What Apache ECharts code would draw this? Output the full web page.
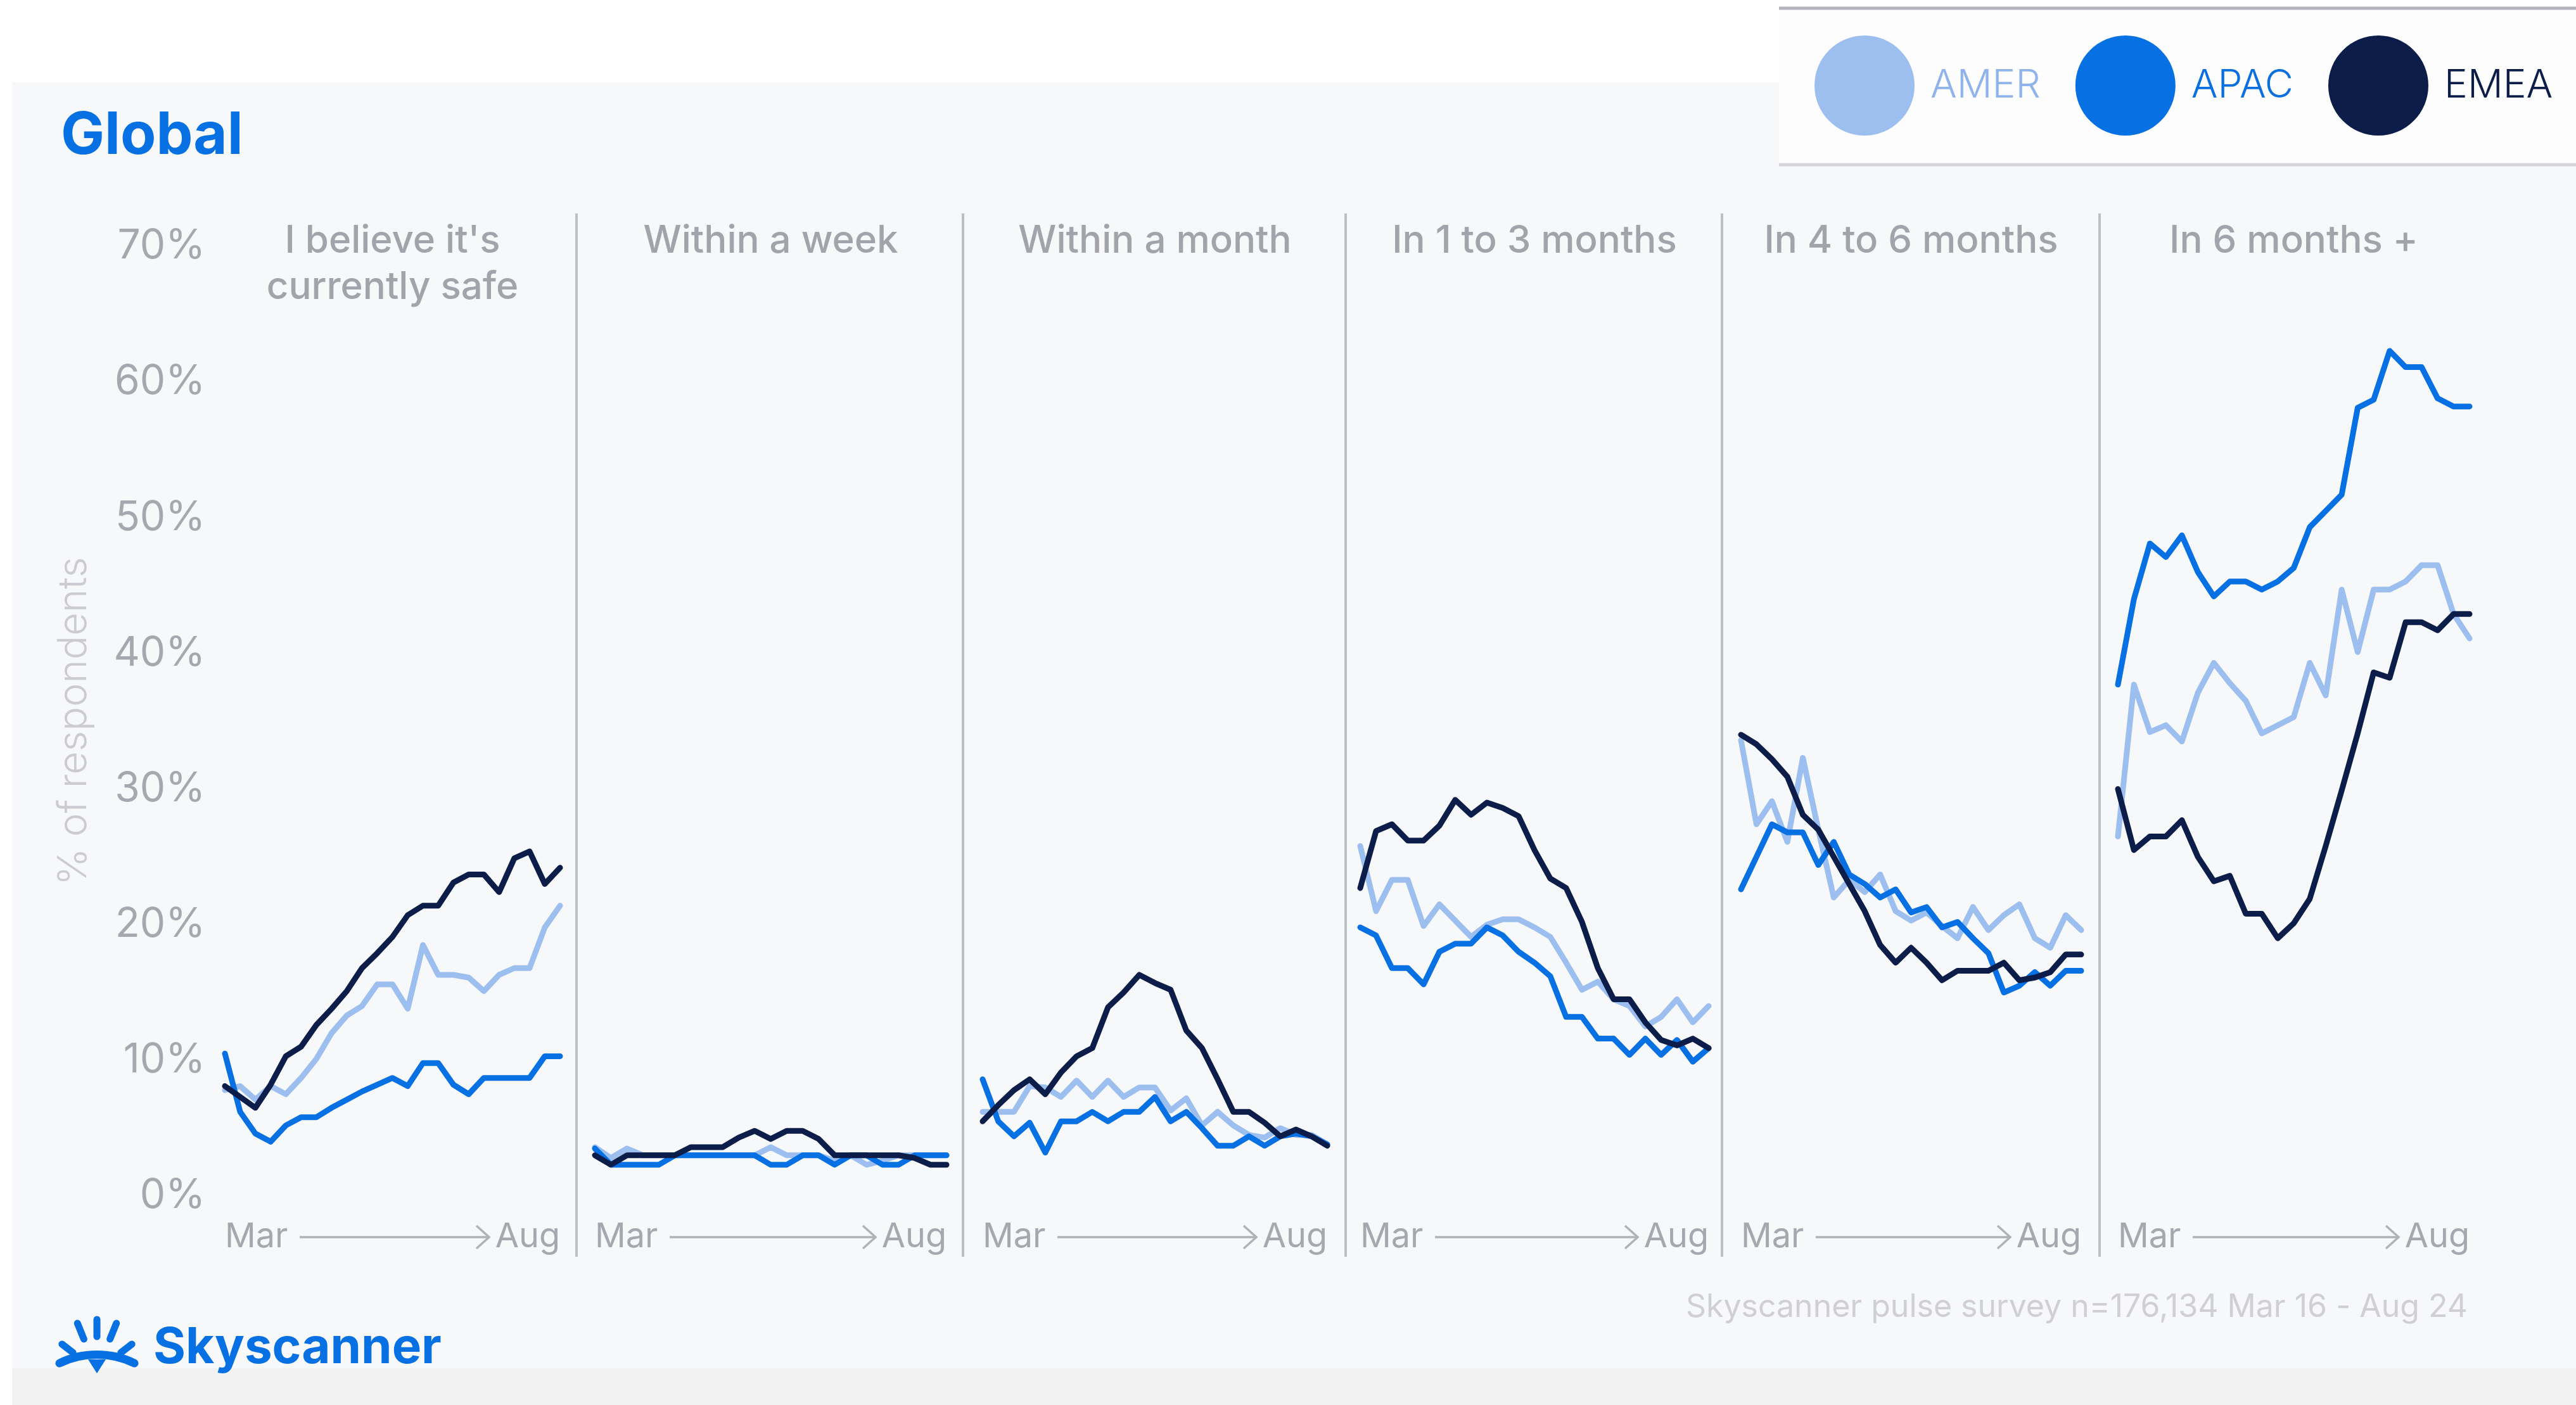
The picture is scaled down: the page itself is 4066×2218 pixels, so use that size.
<!DOCTYPE html>
<html>
<head>
<meta charset="utf-8">
<title>Global – when is it safe to travel?</title>
<script src="https://cdn.jsdelivr.net/npm/echarts@6/dist/echarts.min.js"></script>
<style>
  html, body { margin: 0; padding: 0; background: #ffffff; }
  #chart { width: 4066px; height: 2218px; }
</style>
</head>
<body>
<div id="chart"></div>
<script>
// ---- data -------------------------------------------------------------
const weeks = ['W1','W2','W3','W4','W5','W6','W7','W8','W9','W10','W11','W12',
               'W13','W14','W15','W16','W17','W18','W19','W20','W21','W22','W23'];
const xEndLabels = ['Mar', 'Aug'];
const yTicks = [0, 10, 20, 30, 40, 50, 60, 70];
const regions = ['AMER', 'APAC', 'EMEA'];
const panelTitles = ["I believe it's\ncurrently safe", 'Within a week', 'Within a month',
                     'In 1 to 3 months', 'In 4 to 6 months', 'In 6 months +'];

// I believe it's currently safe
const amerSafe = [7.8, 8.1, 7.1, 8.1, 7.5, 8.7, 10.1, 12.0, 13.3, 14.0, 15.6, 15.6, 13.8, 18.5, 16.3, 16.3, 16.1, 15.1, 16.3, 16.8, 16.8, 19.8, 21.4];
const apacSafe = [10.5, 6.2, 4.6, 4.0, 5.2, 5.8, 5.8, 6.5, 7.1, 7.7, 8.2, 8.7, 8.1, 9.8, 9.8, 8.2, 7.5, 8.7, 8.7, 8.7, 8.7, 10.3, 10.3];
const emeaSafe = [8.1, 7.3, 6.5, 8.2, 10.3, 11.0, 12.6, 13.8, 15.1, 16.8, 17.9, 19.1, 20.7, 21.4, 21.4, 23.1, 23.7, 23.7, 22.4, 24.9, 25.4, 23.0, 24.2];

// Within a week
const amerWeek = [3.6, 2.8, 3.5, 3.0, 3.0, 3.0, 3.0, 3.0, 3.0, 3.0, 3.0, 3.6, 3.0, 3.0, 3.0, 2.6, 3.0, 2.3, 2.6, 3.0, 3.0, 3.0, 3.0];
const apacWeek = [3.5, 2.3, 2.3, 2.3, 2.3, 3.0, 3.0, 3.0, 3.0, 3.0, 3.0, 2.3, 2.3, 3.0, 3.0, 2.3, 3.0, 3.0, 2.3, 2.3, 3.0, 3.0, 3.0];
const emeaWeek = [3.0, 2.3, 3.0, 3.0, 3.0, 3.0, 3.6, 3.6, 3.6, 4.3, 4.8, 4.2, 4.8, 4.8, 4.2, 3.0, 3.0, 3.0, 3.0, 3.0, 2.8, 2.3, 2.3];

// Within a month
const amerMonth = [6.2, 6.2, 6.2, 8.1, 8.0, 7.3, 8.5, 7.3, 8.5, 7.3, 8.0, 8.0, 6.3, 7.2, 5.2, 6.2, 5.2, 4.5, 4.3, 5.0, 4.5, 4.5, 3.8];
const apacMonth = [8.6, 5.5, 4.4, 5.4, 3.2, 5.5, 5.5, 6.2, 5.5, 6.2, 6.2, 7.3, 5.5, 6.2, 5.0, 3.7, 3.7, 4.4, 3.7, 4.4, 4.6, 4.4, 3.8];
const emeaMonth = [5.5, 6.7, 7.8, 8.6, 7.5, 9.1, 10.3, 10.9, 13.9, 15.0, 16.3, 15.7, 15.2, 12.2, 10.9, 8.6, 6.2, 6.2, 5.4, 4.4, 4.9, 4.4, 3.7];

// In 1 to 3 months
const amerOneToThree = [25.8, 21.0, 23.3, 23.3, 19.9, 21.5, 20.3, 19.1, 20.0, 20.4, 20.4, 19.8, 19.1, 17.2, 15.2, 15.8, 14.5, 14.0, 12.5, 13.2, 14.5, 12.8, 14.0];
const apacOneToThree = [19.8, 19.2, 16.8, 16.8, 15.6, 18.0, 18.6, 18.6, 19.8, 19.2, 18.0, 17.2, 16.2, 13.2, 13.2, 11.6, 11.6, 10.4, 11.6, 10.4, 11.5, 9.9, 10.9];
const emeaOneToThree = [22.7, 26.9, 27.4, 26.2, 26.2, 27.3, 29.2, 28.1, 29.0, 28.6, 28.0, 25.5, 23.4, 22.7, 20.2, 16.8, 14.5, 14.5, 12.8, 11.5, 11.1, 11.6, 10.9];

// In 4 to 6 months
const amerFourToSix = [33.6, 27.4, 29.1, 26.1, 32.3, 27.0, 22.0, 23.3, 22.4, 23.7, 21.0, 20.3, 20.9, 19.9, 19.0, 21.3, 19.6, 20.7, 21.5, 19.0, 18.3, 20.7, 19.6];
const apacFourToSix = [22.6, 25.0, 27.4, 26.8, 26.8, 24.4, 26.1, 23.7, 23.0, 22.0, 22.6, 20.9, 21.3, 19.8, 20.2, 19.0, 17.9, 15.0, 15.5, 16.5, 15.5, 16.6, 16.6];
const emeaFourToSix = [34.0, 33.3, 32.2, 30.9, 28.1, 27.0, 25.0, 23.0, 21.0, 18.5, 17.2, 18.3, 17.2, 15.9, 16.6, 16.6, 16.6, 17.2, 15.9, 16.1, 16.5, 17.8, 17.8];

// In 6 months +
const amerSixPlus = [26.5, 37.7, 34.2, 34.7, 33.5, 37.1, 39.3, 37.8, 36.5, 34.1, 34.7, 35.3, 39.3, 36.9, 44.7, 40.1, 44.7, 44.7, 45.3, 46.5, 46.5, 42.9, 41.1];
const apacSixPlus = [37.7, 44.0, 48.1, 47.1, 48.7, 46.0, 44.2, 45.3, 45.3, 44.7, 45.3, 46.3, 49.3, 50.5, 51.7, 58.1, 58.7, 62.3, 61.1, 61.1, 58.8, 58.2, 58.2];
const emeaSixPlus = [30.0, 25.5, 26.5, 26.5, 27.7, 25.0, 23.2, 23.6, 20.8, 20.8, 19.0, 20.1, 21.9, 25.8, 29.9, 34.1, 38.6, 38.2, 42.3, 42.3, 41.7, 42.9, 42.9];

const panelSeries = [
  [amerSafe, apacSafe, emeaSafe],
  [amerWeek, apacWeek, emeaWeek],
  [amerMonth, apacMonth, emeaMonth],
  [amerOneToThree, apacOneToThree, emeaOneToThree],
  [amerFourToSix, apacFourToSix, emeaFourToSix],
  [amerSixPlus, apacSixPlus, emeaSixPlus]
];

// ---- layout & style ---------------------------------------------------
const FONT = 'Inter, "Noto Sans", "Liberation Sans", sans-serif';
const regionColors = ['#9cbff0', '#0770e3', '#0c1d4a'];
const legendTextColors = ['#8fb4ec', '#0b6fe0', '#0c1d4a'];
const panelLeft = [355, 939, 1551, 2147, 2748, 3343];
const panelWidth = [529, 555, 544, 550, 537, 555];
const separatorX = [910, 1520, 2124, 2718, 3314];
const plotTop = 389;
const plotHeight = 1499;
const axisTextColor = '#a7a7af';

const grids = [], xAxes = [], yAxes = [], series = [], titles = [];

panelLeft.forEach((left, p) => {
  grids.push({ left: left, top: plotTop, width: panelWidth[p], height: plotHeight, containLabel: false });

  xAxes.push({
    type: 'category', gridIndex: p, data: weeks, boundaryGap: false,
    axisLine: { show: false }, axisTick: { show: false }, splitLine: { show: false },
    axisLabel: {
      interval: 0, margin: 38, fontSize: 54, lineHeight: 54, color: axisTextColor, fontFamily: FONT,
      alignMinLabel: 'left', alignMaxLabel: 'right',
      formatter: (v, i) => i === 0 ? xEndLabels[0] : (i === weeks.length - 1 ? xEndLabels[1] : '')
    }
  });

  yAxes.push({
    type: 'value', gridIndex: p,
    min: yTicks[0], max: yTicks[yTicks.length - 1], interval: yTicks[1] - yTicks[0],
    axisLine: { show: false }, axisTick: { show: false }, splitLine: { show: false },
    axisLabel: {
      show: p === 0, formatter: '{value}%', margin: 31,
      fontSize: 64, color: axisTextColor, fontFamily: FONT
    },
    name: p === 0 ? '% of respondents' : '',
    nameLocation: 'middle', nameRotate: 90, nameGap: 206,
    nameTextStyle: { fontSize: 63, color: '#cbcbd1', fontFamily: FONT, fontWeight: 300 }
  });

  panelSeries[p].forEach((values, r) => {
    series.push({
      type: 'line', name: regions[r], xAxisIndex: p, yAxisIndex: p,
      data: values, symbol: 'none', smooth: false, z: 2 + r,
      lineStyle: { width: 9, color: regionColors[r], join: 'round', cap: 'round' },
      itemStyle: { color: regionColors[r] },
      emphasis: { disabled: true }, silent: true, animation: false
    });
  });

  titles.push({
    text: panelTitles[p], left: left + panelWidth[p] / 2, top: 344, padding: 0,
    textAlign: 'center', textVerticalAlign: 'top',
    textStyle: { fontSize: 60, lineHeight: 73, fontWeight: 500, color: '#a3a3ab', fontFamily: FONT }
  });
});

titles.push({
  text: 'Global', left: 96, top: 169, padding: 0, textVerticalAlign: 'top',
  textStyle: { fontSize: 92, lineHeight: 92, fontWeight: 700, color: '#0770e3', fontFamily: FONT }
});
titles.push({
  text: 'Skyscanner pulse survey n=176,134 Mar 16 - Aug 24', left: 3895, top: 2039, padding: 0,
  textAlign: 'right', textVerticalAlign: 'top',
  textStyle: { fontSize: 50, lineHeight: 50, fontWeight: 400, color: '#cfcfd4', fontFamily: FONT }
});
titles.push({
  text: 'Skyscanner', left: 242, top: 2090, padding: 0, textVerticalAlign: 'top',
  textStyle: { fontSize: 78, lineHeight: 78, fontWeight: 700, color: '#0770e3', fontFamily: FONT }
});

// ---- decorations ------------------------------------------------------
const graphics = [
  { type: 'rect', z: -10, silent: true, shape: { x: 19, y: 130, width: 4047, height: 2088 }, style: { fill: '#f7f8f9' } },
  { type: 'rect', z: -9, silent: true, shape: { x: 19, y: 2160, width: 4047, height: 58 }, style: { fill: '#f2f2f3' } },
  { type: 'rect', z: -8, silent: true, shape: { x: 2808, y: 13, width: 1258, height: 247 }, style: { fill: '#fdfdfd' } },
  { type: 'line', z: -7, silent: true, shape: { x1: 2808, y1: 13, x2: 4066, y2: 13 }, style: { stroke: '#b3b3bb', lineWidth: 5 } },
  { type: 'line', z: -7, silent: true, shape: { x1: 2808, y1: 260, x2: 4066, y2: 260 }, style: { stroke: '#d3d3d8', lineWidth: 5 } }
];

separatorX.forEach(x => graphics.push({
  type: 'line', silent: true, shape: { x1: x, y1: 337, x2: x, y2: 1984 },
  style: { stroke: '#bdbdc4', lineWidth: 4 }
}));

// "Mar ——> Aug" time arrow under each panel
panelLeft.forEach((left, p) => {
  const right = left + panelWidth[p];
  const y = 1953, x1 = left + 118, x2 = right - 112;
  graphics.push({ type: 'line', silent: true, shape: { x1: x1, y1: y, x2: x2, y2: y },
                  style: { stroke: '#b1b1b8', lineWidth: 3.5 } });
  graphics.push({ type: 'polyline', silent: true,
                  shape: { points: [[x2 - 20, y - 18], [x2, y], [x2 - 20, y + 18]] },
                  style: { stroke: '#b1b1b8', lineWidth: 3.5, fill: null } });
});

// Sunrise logo mark
const logoCx = 153, logoCy = 2165;
const rays = [[0, 55, 82], [22, 55, 82], [-22, 55, 82], [52, 48, 70], [-52, 48, 70]];
rays.forEach(([deg, r0, r1]) => {
  const a = deg * Math.PI / 180;
  graphics.push({
    type: 'line', silent: true,
    shape: { x1: logoCx + r0 * Math.sin(a), y1: logoCy - r0 * Math.cos(a),
             x2: logoCx + r1 * Math.sin(a), y2: logoCy - r1 * Math.cos(a) },
    style: { stroke: '#0770e3', lineWidth: 11, lineCap: 'round' }
  });
});
graphics.push({ type: 'bezierCurve', silent: true,
  shape: { x1: 94, y1: 2152, cpx1: 130, cpy1: 2134, cpx2: 176, cpy2: 2134, x2: 212, y2: 2152 },
  style: { stroke: '#0770e3', lineWidth: 13, lineCap: 'round', fill: null } });
graphics.push({ type: 'polygon', silent: true,
  shape: { points: [[139, 2146], [167, 2146], [153, 2168]] },
  style: { fill: '#0770e3' } });

// ---- chart ------------------------------------------------------------
const chart = echarts.init(document.getElementById('chart'), null, { renderer: 'canvas' });
chart.setOption({
  backgroundColor: 'transparent',
  animation: false,
  textStyle: { fontFamily: FONT },
  title: titles,
  legend: {
    data: regions.map((name, i) => ({ name: name, icon: 'circle', textStyle: { color: legendTextColors[i] } })),
    left: 2864, top: 56, padding: 0, orient: 'horizontal',
    itemWidth: 158, itemHeight: 158, itemGap: 55,
    itemStyle: { borderWidth: 0 },
    selectedMode: false,
    textStyle: { fontSize: 62, fontWeight: 300, fontFamily: FONT, padding: [0, 0, 0, 20] }
  },
  grid: grids,
  xAxis: xAxes,
  yAxis: yAxes,
  series: series,
  graphic: { elements: graphics }
});
</script>
</body>
</html>
